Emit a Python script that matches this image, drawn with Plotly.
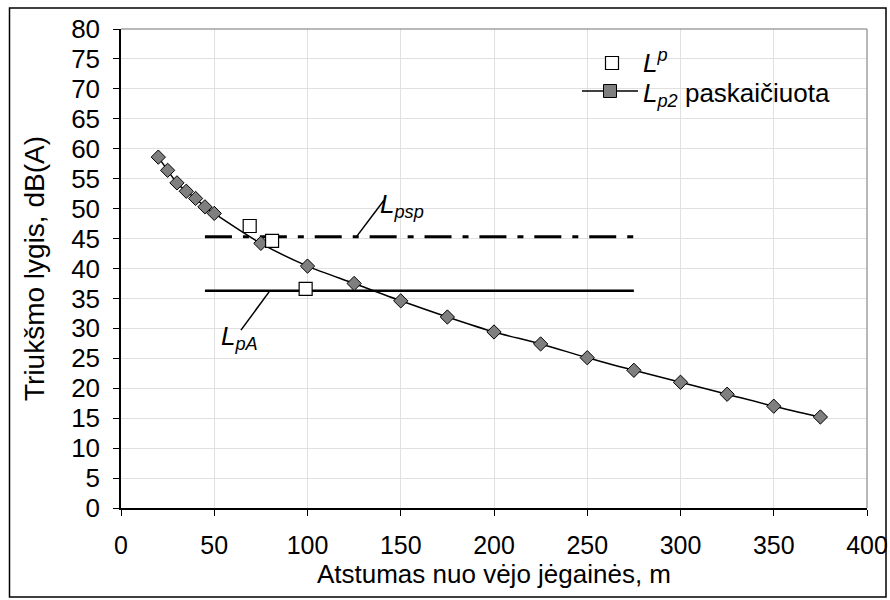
import plotly.graph_objects as go

# --- data ---
dist_calc = [20, 25, 30, 35, 40, 45, 50, 75, 100, 125, 150, 175, 200, 225, 250, 275, 300, 325, 350, 375]
lp2_calc = [58.6, 56.4, 54.3, 52.9, 51.7, 50.3, 49.2, 44.2, 40.4, 37.5, 34.6, 31.9, 29.4, 27.4, 25.1, 23.0, 21.0, 19.0, 17.0, 15.2]

dist_meas = [69, 81, 99]
lp_meas = [47.1, 44.6, 36.6]

limit_x = [45, 275]
lpsp_level = [45.3, 45.3]
lpa_level = [36.3, 36.3]

x_ticks = [0, 50, 100, 150, 200, 250, 300, 350, 400]
y_ticks = [0, 5, 10, 15, 20, 25, 30, 35, 40, 45, 50, 55, 60, 65, 70, 75, 80]

legend_names = ["<i>L</i><sup><i>p</i></sup>", "<i>L</i><sub><i>p2</i></sub> paskaičiuota"]

FONT = "Liberation Sans"

# plot-area geometry (pixels)
L, R, T, B = 121, 867, 29, 508
W, H = R - L, B - T


def px(xp):
    return (xp - L) / W


def py(yp):
    return (B - yp) / H


fig = go.Figure()

# Lpsp (dash-dot)
fig.add_trace(go.Scatter(x=limit_x, y=lpsp_level, mode="lines", showlegend=False,
                         line=dict(color="black", width=3, dash="27px,11px,6px,10.9px"),
                         hoverinfo="skip"))
# LpA (solid)
fig.add_trace(go.Scatter(x=limit_x, y=lpa_level, mode="lines", showlegend=False,
                         line=dict(color="black", width=2.5), hoverinfo="skip"))

# calculated curve
fig.add_trace(go.Scatter(x=dist_calc, y=lp2_calc, mode="lines+markers", showlegend=False,
                         name=legend_names[1],
                         line=dict(color="black", width=1.5, shape="spline", smoothing=0.8),
                         marker=dict(symbol="diamond", size=11, color="#7f7f7f",
                                     line=dict(color="black", width=1))))
# measured
fig.add_trace(go.Scatter(x=dist_meas, y=lp_meas, mode="markers", showlegend=False,
                         name=legend_names[0],
                         marker=dict(symbol="square", size=13, color="white",
                                     line=dict(color="black", width=1.2))))

# leader lines
fig.add_shape(type="line", x0=141.0, y0=51.4, x1=126.5, y1=45.4,
              line=dict(color="black", width=1.5))
fig.add_shape(type="line", x0=79.4, y0=36.1, x1=64.3, y1=29.7,
              line=dict(color="black", width=1.5))

fig.add_annotation(x=137.8, y=50.6, xanchor="left", yanchor="middle", showarrow=False,
                   text="<i>L</i><sub><i>psp</i></sub>", font=dict(family=FONT, size=26, color="black"))
fig.add_annotation(x=52.5, y=28.4, xanchor="left", yanchor="middle", showarrow=False,
                   text="<i>L</i><sub><i>pA</i></sub>", font=dict(family=FONT, size=26, color="black"))

# --- legend (drawn by hand to match the reference key) ---
fig.add_shape(type="rect", xref="paper", yref="paper", xsizemode="pixel", ysizemode="pixel",
              xanchor=px(612), yanchor=py(63), x0=-6.5, x1=6.5, y0=-6.5, y1=6.5,
              fillcolor="white", line=dict(color="black", width=1.2))
fig.add_shape(type="line", xref="paper", yref="paper", x0=px(582), x1=px(638), y0=py(91), y1=py(91),
              line=dict(color="black", width=1.5))
fig.add_shape(type="rect", xref="paper", yref="paper", xsizemode="pixel", ysizemode="pixel",
              xanchor=px(610), yanchor=py(91), x0=-6.5, x1=6.5, y0=-6.5, y1=6.5,
              fillcolor="#7f7f7f", line=dict(color="black", width=1))
fig.add_annotation(xref="paper", yref="paper", x=px(641), y=py(61), xanchor="left", yanchor="middle",
                   showarrow=False, text=legend_names[0],
                   font=dict(family=FONT, size=26, color="black"))
fig.add_annotation(xref="paper", yref="paper", x=px(641), y=py(94), xanchor="left", yanchor="middle",
                   showarrow=False, text=legend_names[1],
                   font=dict(family=FONT, size=26, color="black"))

# plot area top/right gray border
fig.add_shape(type="line", xref="paper", yref="paper", x0=0, x1=1, y0=1, y1=1,
              line=dict(color="#a0a0a0", width=1.5))
fig.add_shape(type="line", xref="paper", yref="paper", x0=1, x1=1, y0=0, y1=1,
              line=dict(color="#a0a0a0", width=1.5))
# outer figure frame
fig.add_shape(type="rect", xref="paper", yref="paper",
              x0=px(9.5), x1=px(886), y0=py(597), y1=py(8),
              line=dict(color="black", width=1.5))

fig.update_layout(
    width=890, height=600,
    margin=dict(l=L, r=890 - R, t=T, b=600 - B),
    paper_bgcolor="white", plot_bgcolor="white",
    font=dict(family=FONT, color="black"),
    showlegend=False,
    xaxis=dict(range=[0, 400], tickvals=x_ticks, ticks="outside", ticklen=6,
               tickcolor="black", showline=True, linecolor="black", linewidth=1.5,
               showgrid=True, gridcolor="#e0e0e0", gridwidth=1, zeroline=False,
               automargin=False,
               tickfont=dict(family=FONT, size=25), ticklabelstandoff=8,
               title=dict(text="Atstumas nuo vėjo jėgainės, m",
                          font=dict(family=FONT, size=26), standoff=4)),
    yaxis=dict(range=[0, 80], tickvals=y_ticks, ticks="outside", ticklen=6,
               tickcolor="black", showline=True, linecolor="black", linewidth=1.5,
               showgrid=True, gridcolor="#e0e0e0", gridwidth=1, zeroline=False,
               automargin=False,
               tickfont=dict(family=FONT, size=26), ticklabelstandoff=8,
               title=dict(text="Triukšmo lygis, dB(A)",
                          font=dict(family=FONT, size=28), standoff=18)),
)

fig.write_html("out.html")
